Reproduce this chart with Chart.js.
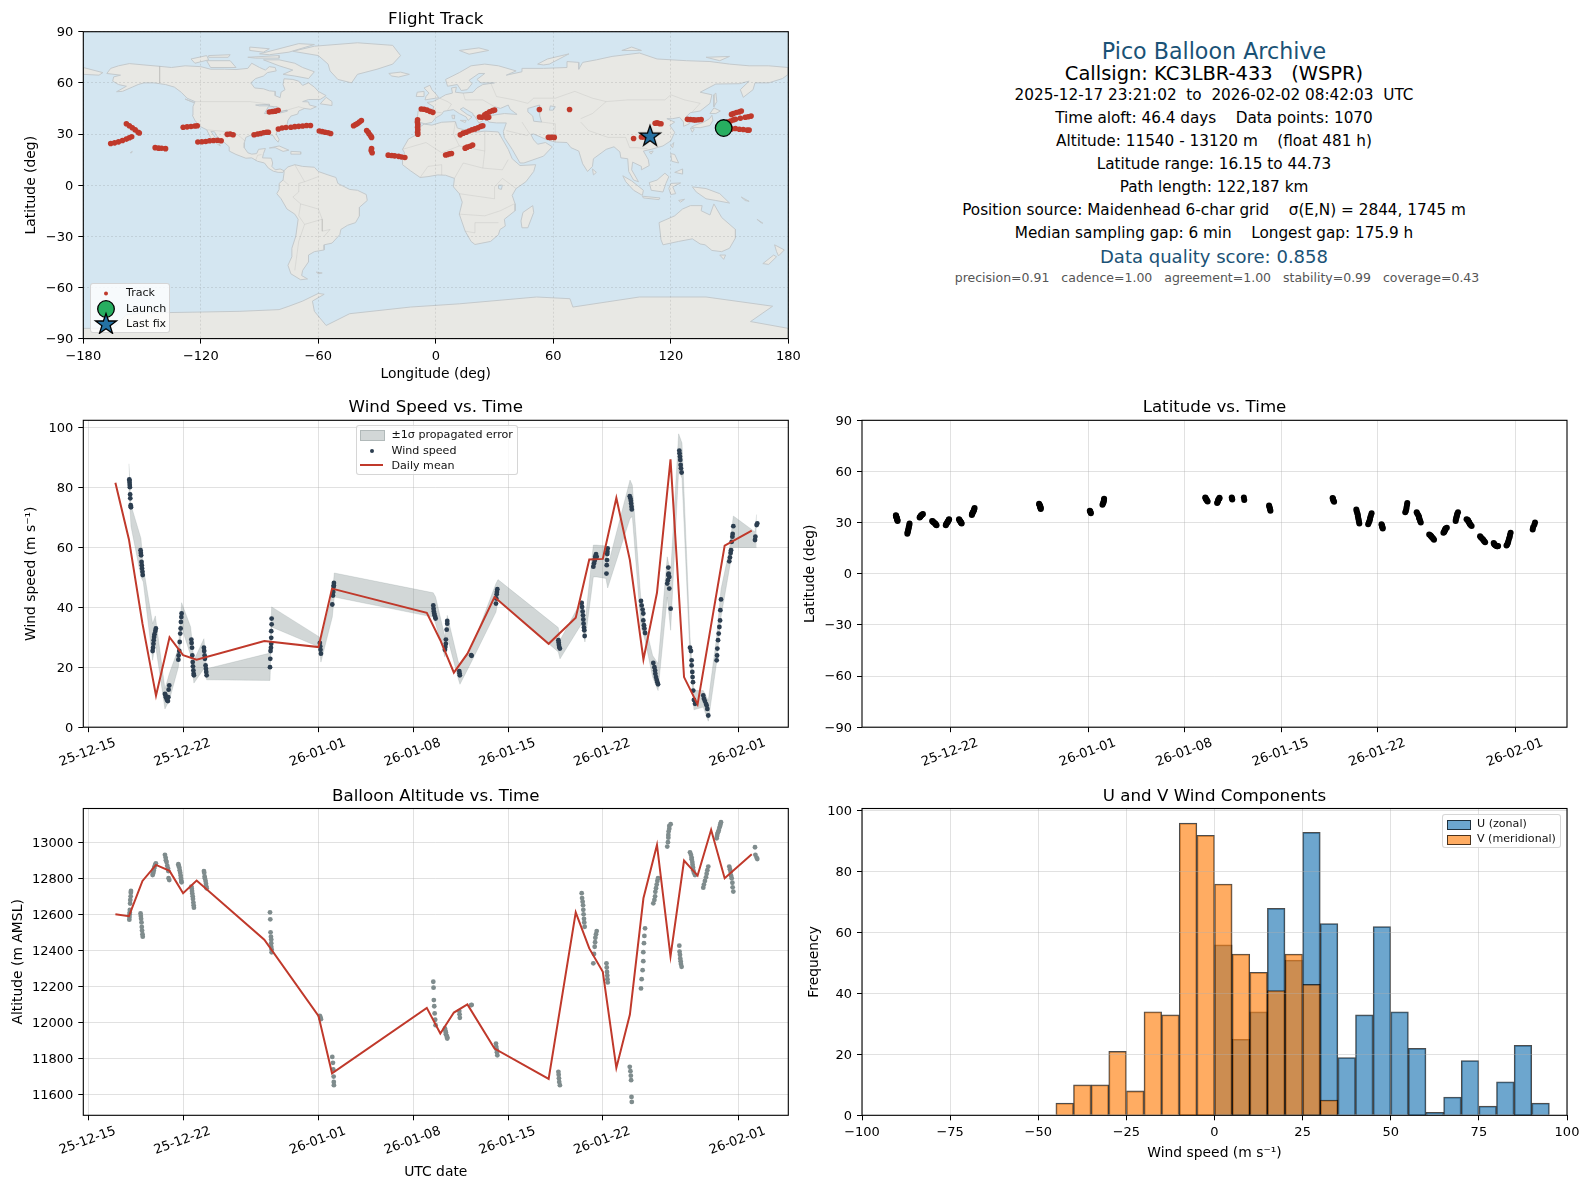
<!DOCTYPE html>
<html>
<head>
<meta charset="utf-8">
<title>Pico Balloon Archive</title>
<script src="https://cdn.jsdelivr.net/npm/chart.js@4"></script>
<style>
    html, body { margin: 0; padding: 0; background: #fff; }
    body { position: relative; width: 1589px; height: 1189px; overflow: hidden; font-family: "DejaVu Sans", sans-serif; color: #000; }
    canvas { position: absolute; }
    .line { position: absolute; left: 814px; width: 800px; text-align: center; white-space: pre; font-size: 15.28px; line-height: 18px; }
    .legend { position: absolute; background: rgba(255,255,255,0.8); border: 1px solid rgba(204,204,204,0.8); border-radius: 3px; box-sizing: border-box; }
    .legend span { position: absolute; font-size: 11.1px; line-height: 12px; white-space: pre; color: #111; }
    .legend i, .legend svg { position: absolute; display: block; }
</style>
</head>
<body>
<canvas id="mapChart" style="left:0;top:0"></canvas>
<canvas id="windChart" style="left:0;top:385px"></canvas>
<canvas id="latChart" style="left:800px;top:385px"></canvas>
<canvas id="altChart" style="left:0;top:775px"></canvas>
<canvas id="histChart" style="left:800px;top:775px"></canvas>

<div class="line" style="top:39px;font-size:22.2px;line-height:24px;color:#1a5276">Pico Balloon Archive</div>
<div class="line" style="top:63px;font-size:19.44px;line-height:22px">Callsign: KC3LBR-433   (WSPR)</div>
<div class="line" style="top:85.7px">2025-12-17 23:21:02  to  2026-02-02 08:42:03  UTC</div>
<div class="line" style="top:108.7px">Time aloft: 46.4 days    Data points: 1070</div>
<div class="line" style="top:131.7px">Altitude: 11540 - 13120 m    (float 481 h)</div>
<div class="line" style="top:154.7px">Latitude range: 16.15 to 44.73</div>
<div class="line" style="top:177.7px">Path length: 122,187 km</div>
<div class="line" style="top:201px">Position source: Maidenhead 6-char grid    σ(E,N) = 2844, 1745 m</div>
<div class="line" style="top:223.7px">Median sampling gap: 6 min    Longest gap: 175.9 h</div>
<div class="line" style="top:246px;font-size:18.05px;line-height:22px;color:#1a5276">Data quality score: 0.858</div>
<div class="line" style="top:270px;left:817px;font-size:12.5px;line-height:16px;color:#555">precision=0.91   cadence=1.00   agreement=1.00   stability=0.99   coverage=0.43</div>

<div class="legend" style="left:90px;top:283px;width:80px;height:50px">
    <svg style="left:0;top:0" width="80" height="50" viewBox="0 0 80 50">
        <circle cx="15" cy="9.5" r="2" fill="#c0392b"/>
        <circle cx="15" cy="25" r="8.3" fill="#27ae60" stroke="#000" stroke-width="1.3"/>
        <polygon points="15,29.5 17.6,37 25.5,37 19.1,41.8 21.5,49.3 15,44.8 8.5,49.3 10.9,41.8 4.5,37 12.4,37" fill="#2471a3" stroke="#000" stroke-width="1.3"/>
    </svg>
    <span style="left:35px;top:3px">Track</span>
    <span style="left:35px;top:19px">Launch</span>
    <span style="left:35px;top:34px">Last fix</span>
</div>

<div class="legend" style="left:355.5px;top:424.5px;width:162.5px;height:50.5px">
    <i style="left:3px;top:4.5px;width:23px;height:9px;background:rgba(127,140,141,0.35);border:0.5px solid rgba(127,140,141,0.4)"></i>
    <i style="left:13.5px;top:23.5px;width:4px;height:4px;border-radius:2px;background:#2c3e50"></i>
    <i style="left:3px;top:38.5px;width:23px;height:2px;background:#c0392b"></i>
    <span style="left:35px;top:3px">±1σ propagated error</span>
    <span style="left:35px;top:19px">Wind speed</span>
    <span style="left:35px;top:34px">Daily mean</span>
</div>

<div class="legend" style="left:1442px;top:814px;width:119px;height:34px">
    <i style="left:4px;top:5px;width:22px;height:8px;background:rgba(31,119,180,0.65);border:1px solid rgba(0,0,0,0.7)"></i>
    <i style="left:4px;top:20px;width:22px;height:8px;background:rgba(255,127,14,0.65);border:1px solid rgba(0,0,0,0.7)"></i>
    <span style="left:34px;top:3px">U (zonal)</span>
    <span style="left:34px;top:18px">V (meridional)</span>
</div>

<script>
// --- tick values ---
const mapLonTicks = [-180, -120, -60, 0, 60, 120, 180];
const mapLatTicks = [-90, -60, -30, 0, 30, 60, 90];
const dateTickDays = [0, 7, 17, 24, 31, 38, 48];           // days after 2025-12-15
const dateTickLabels = ["25-12-15", "25-12-22", "26-01-01", "26-01-08", "26-01-15", "26-01-22", "26-02-01"];
const latDateTickDays = [7, 17, 24, 31, 38, 48];
const windTicks = [0, 20, 40, 60, 80, 100];
const altTicks = [11600, 11800, 12000, 12200, 12400, 12600, 12800, 13000];
const histXTicks = [-100, -75, -50, -25, 0, 25, 50, 75, 100];
const histYTicks = [0, 20, 40, 60, 80, 100];

// --- samples, one row per pass, same order in all four arrays ---
const sampleDays = [
    3.03,3.04,3.05,3.06,3.07,3.09,3.10,3.13,3.14,3.15,
    3.86,3.88,3.90,3.93,3.95,3.97,4.00,4.02,
    4.75,4.78,4.81,4.83,4.86,4.89,4.95,4.99,
    5.66,5.71,5.73,5.78,5.83,5.88,5.91,5.93,5.98,
    6.65,6.67,6.72,6.75,6.79,6.82,6.84,6.87,6.89,
    7.61,7.63,7.66,7.68,7.71,7.73,7.76,7.78,7.80,
    8.54,8.56,8.59,8.61,8.66,8.69,8.71,8.74,
    13.42,13.44,13.46,13.49,13.51,13.51,13.51,13.54,13.54,
    17.10,17.13,17.15,17.18,
    18.02,18.07,18.09,18.12,18.13,18.14,
    25.48,25.50,25.52,25.55,25.58,25.62,25.65,
    26.34,26.37,26.41,26.41,26.47,26.51,26.51,
    27.40,27.42,27.44,
    28.28,28.31,
    30.11,30.13,30.16,30.18,30.21,
    34.72,34.74,34.76,34.78,34.83,
    36.44,36.47,36.51,36.54,36.56,36.58,36.61,36.63,36.66,
    37.30,37.35,37.40,37.43,37.45,37.50,37.55,
    38.27,38.29,38.31,38.33,38.34,38.36,
    39.99,40.04,40.07,40.09,40.12,40.14,
    40.82,40.87,40.94,40.99,40.99,41.04,41.07,41.12,
    41.73,41.81,41.86,41.88,41.93,41.98,42.03,42.08,
    42.76,42.81,42.84,42.84,42.86,42.91,42.91,43.01,
    43.65,43.67,43.70,43.72,43.75,43.77,43.82,
    44.44,44.51,44.56,44.56,44.61,44.63,44.66,44.68,44.73,44.81,
    45.42,45.47,45.54,45.62,45.67,45.72,45.79,
    46.41,46.44,46.46,46.51,46.56,46.61,46.66,46.68,46.73,
    47.34,47.39,47.44,47.47,47.52,47.57,47.59,47.64,
    49.24,49.27,49.36,49.41
];
const windSpeed = [
    82.6,82.2,81.5,80.7,80.0,77.6,76.3,74.0,73.5,73.3,
    59.0,58.1,57.3,55.1,54.0,52.9,51.8,50.7,
    25.4,26.5,27.8,29.0,30.1,31.0,32.1,32.9,
    11.1,10.6,10.0,9.5,8.9,8.7,10.0,12.5,13.9,
    22.5,23.9,25.4,28.4,31.2,32.9,35.1,36.7,37.9,
    29.2,28.1,26.5,23.9,21.7,20.3,18.9,17.8,17.3,
    26.5,25.4,23.9,22.8,20.6,19.5,18.4,17.3,
    20.0,22.8,25.4,26.5,27.8,29.8,32.0,34.3,36.2,
    28.1,26.9,25.8,24.5,
    40.9,43.9,45.1,46.8,47.3,48.1,
    40.6,39.5,38.6,37.9,37.3,36.7,36.2,
    25.8,26.7,27.8,29.2,32.5,34.5,35.4,
    18.7,18.0,17.3,
    24.0,23.8,
    41.2,42.9,44.3,45.1,46.0,
    29.0,28.2,27.4,26.7,26.2,
    41.4,40.1,38.6,37.3,35.9,34.5,33.2,32.3,30.4,
    53.5,54.6,55.5,56.2,57.0,57.7,56.8,
    51.2,54.0,55.7,57.7,58.5,59.6,
    77.0,76.3,75.5,74.6,73.5,72.6,
    42.1,40.6,39.2,37.9,35.6,34.0,32.9,31.4,
    21.4,20.0,18.9,17.8,16.7,15.8,15.0,14.3,
    47.9,49.0,50.7,53.2,51.2,50.1,46.2,39.5,
    92.2,91.3,90.2,89.1,87.4,86.3,84.9,
    26.5,25.4,22.3,20.6,18.4,16.7,15.0,12.2,9.1,7.8,
    10.6,9.5,8.7,7.8,7.2,6.1,3.9,
    22.3,23.9,26.2,29.0,31.2,33.4,35.6,39.0,42.6,
    55.3,56.6,58.1,59.0,61.8,63.5,64.4,67.0,
    62.4,63.5,67.4,67.9
];
const altitude = [
    12570,12585,12600,12610,12624,12660,12680,12700,12720,12730,
    12605,12590,12575,12555,12530,12510,12490,12476,
    12818,12825,12835,12845,12855,12865,12875,12883,
    12930,12915,12900,12890,12870,12855,12840,12800,12790,
    12878,12870,12860,12845,12830,12815,12800,12785,12778,
    12754,12745,12730,12715,12700,12685,12665,12650,12637,
    12840,12830,12810,12800,12785,12770,12755,12744,
    12611,12572,12500,12476,12460,12440,12420,12405,12389,
    12037,12030,12024,12018,
    11809,11776,11740,11700,11670,11652,
    12226,12193,12124,12090,12050,12015,11985,
    11967,11955,11945,11935,11925,11918,11911,
    12063,12045,12026,
    12096,12098,
    11883,11865,11850,11835,11818,
    11726,11710,11690,11670,11652,
    12717,12690,12670,12650,12625,12600,12575,12555,12531,
    12328,12380,12420,12445,12470,12490,12507,
    12328,12305,12280,12260,12240,12222,
    11754,11730,11705,11680,11587,11559,
    12189,12240,12290,12340,12390,12440,12480,12522,
    12661,12680,12700,12725,12745,12765,12785,12800,
    12976,13000,13025,13040,13060,13075,13090,13100,
    12426,12393,12375,12355,12340,12325,12309,
    12944,12930,12915,12905,12890,12875,12860,12845,12830,12818,
    12748,12765,12785,12805,12825,12845,12865,
    13022,13035,13045,13055,13065,13080,13090,13100,13111,
    12865,12850,12835,12815,12800,12775,12750,12726,
    12972,12930,12915,12907
];
const latitude = [
    34.3,34.0,33.7,33.4,33.1,32.7,32.3,31.8,31.4,31.0,
    23.5,24.3,25.0,25.8,26.7,27.5,28.5,29.5,
    33.0,33.3,33.6,33.9,34.2,34.5,34.8,35.0,
    31.0,30.8,30.4,30.1,29.8,29.5,29.2,28.8,28.5,
    28.5,29.0,29.5,30.0,30.4,30.8,31.2,31.6,32.0,
    32.0,31.6,31.3,31.0,30.7,30.4,30.1,29.8,29.5,
    34.5,35.0,35.5,36.0,36.6,37.2,37.9,38.5,
    41.0,40.6,40.2,39.9,39.5,39.2,38.8,38.4,38.0,
    37.0,36.6,36.0,35.5,
    40.5,41.3,42.0,42.8,43.4,44.0,
    44.7,44.4,44.0,43.6,43.2,42.8,42.4,
    41.5,42.0,42.6,43.2,43.8,44.2,44.6,
    44.7,44.2,43.6,
    44.7,43.2,
    40.0,39.3,38.5,37.8,37.0,
    44.5,44.2,43.5,42.8,42.2,
    37.7,36.7,35.7,34.7,33.7,32.7,31.7,30.6,29.5,
    29.0,30.0,31.0,32.0,33.0,34.2,35.5,
    29.0,28.5,28.0,27.5,27.0,26.5,
    36.0,37.0,38.0,39.2,40.4,41.5,
    36.0,35.2,34.3,33.5,32.7,31.9,31.0,30.0,
    23.0,22.6,22.2,21.8,21.4,21.0,20.5,20.0,
    24.0,24.4,24.8,25.2,25.6,26.0,26.5,27.0,
    31.0,32.0,32.8,33.6,34.4,35.2,36.0,
    32.0,31.6,31.2,30.8,30.4,30.0,29.6,29.2,28.6,28.0,
    22.0,21.4,20.8,20.2,19.6,19.0,18.5,
    18.0,17.6,17.2,16.8,16.5,16.3,16.2,16.15,16.3,
    16.5,17.2,18.1,19.0,20.5,21.5,22.8,24.0,
    26.0,27.3,28.8,30.0
];

// --- daily means ---
const windMeanDays = [2,3,4,5,6,7,8,13,17,18,25,26,27,28,30,34,36,37,38,39,40,41,42,43,44,45,47,49];
const windMean = [81.5,62.6,34.5,10.5,30,24,22.5,28.7,26.7,46.2,38.1,29,18.2,24.5,43.4,27.8,36.5,55.9,56.1,76.4,55.7,22.6,44.8,89.3,16.7,7.6,60.5,65.5];
const altMeanDays = [2,3,4,5,6,7,8,13,17,18,25,26,27,28,30,34,36,37,38,39,40,41,42,43,44,45,46,47,49];
const altMean = [12600,12590,12785,12874,12841,12717,12787,12459,12037,11718,12081,11939,12055,12100,11855,11687,12611,12411,12281,11748,12044,12689,12985,12367,12898,12815,13069,12800,12933];

// --- propagated error band ---
const bandDays = [3.00,3.15,3.89,4.06,4.75,4.95,5.66,5.98,6.65,6.89,7.56,7.80,8.54,8.74,13.42,13.54,17.06,17.18,18.02,18.17,25.48,25.65,26.34,26.51,27.33,27.45,28.29,30.11,30.26,34.71,34.84,36.44,36.68,37.30,37.55,38.23,38.36,40.01,40.18,40.82,41.12,41.68,42.08,42.76,43.01,43.60,43.85,44.44,44.73,45.42,45.79,46.41,46.73,47.34,47.64,49.24,49.36];
const bandUpper = [87.8,74.1,62.9,53.5,34.5,37.1,12.8,17.8,26.2,41.5,33.4,22.3,29.5,19.5,24.7,40.1,30.1,29,44.5,51.4,44.8,43.4,30.1,37.3,21.7,21.2,26.2,47.9,49.2,33.2,29,42.3,34.5,60.7,60.7,60.4,53.5,82.4,80.7,42.3,34.5,23.9,21.2,56.8,51.2,97.8,94.7,30.1,12.2,12.2,8.9,30.1,46,59,70.4,65.1,70.9];
const bandLower = [79.1,67,50.1,48.4,22.3,27.8,6.1,8.9,20,33.4,23.9,14.7,19.5,15.8,15.6,33.4,26.7,21.7,36.7,43.4,36.7,34.5,23.4,30.1,16.1,14.3,21.7,38.4,42.3,25.1,22.8,34.5,28.4,50.1,50.1,49.6,46.4,69.6,70.2,33.4,29,16.7,12.2,43.4,32.3,85.7,83,23.4,5.8,6.7,2,21.7,36.7,52.6,59.9,59.9,59.9];

// --- histogram, bins of 5 m/s ---
const binCentersU = [2.5,7.5,12.5,17.5,22.5,27.5,32.5,37.5,42.5,47.5,52.5,57.5,62.5,67.5,72.5,77.5,82.5,87.5,92.5];
const countsU = [56,25,34,68,51,93,63,19,33,62,34,22,1,6,18,3,11,23,4];
const binCentersV = [-42.5,-37.5,-32.5,-27.5,-22.5,-17.5,-12.5,-7.5,-2.5,2.5,7.5,12.5,17.5,22.5,27.5,32.5];
const countsV = [4,10,10,21,8,34,33,96,92,76,53,47,41,53,43,5];

// --- flight track ---
const trackLon = [
    151,153,155,157,159,160, 149,150.5,152,153,155.5,158,159.5,161, 151,152,153.5,155,156,
    128.5,130,131.5,132.5,134,135.5, 112,113,114,115, 101,105,106, 57.5,58.5,59.5,60.5, 52.9,68.3,
    22.3,23.5,25,26,27, 25,26,27.5,29,30, 12.5,14,15.5,17,18.5,20,21.5,23,24, 15,16,17.5,18.8, 5,6,7,8,
    -7.4,-6,-4.5,-3,-1.5, -9.3,-9.4,-9.2,-9.3,-9.2,-9.3,-9.2, -24.3,-22.5,-21,-19,-17.5,-15.8, -32.8,-33,-32.5,
    -35.3,-34.5,-34,-33.2,-32.8, -42,-41,-40,-39,-38, -59.5,-58,-56.5,-55,-53.7,
    -80.4,-78.5,-76.5,-74,-72,-70,-68,-66,-64, -85,-83.5,-82,-80.5, -92.8,-91,-89.5,-88,-86.5,-85.5, -106.5,-105,-103.5,
    -121.5,-119.5,-117.5,-115.5,-113.5,-111.5,-109.6, -129,-127,-125,-123,-121.8, -143.3,-141.5,-140,-138,
    -158,-156.5,-155,-153.5,-152,-151.4, -166,-164,-162,-160,-158,-156.5,-155.3
];
const trackLat = [
    33,33.2,32.8,32.6,32.3,32.3, 37,37.6,38.3,38.6,39.2,39.8,40.1,40.5, 41.5,42,42.6,43,43.5,
    38.6,38.5,38.4,38.2,38.4,38.5, 36.3,36.6,36.1,36, 27.4,28.2,28.3, 28.1,28,28.1,28, 44.4,44.4,
    40,39.8,40.1,39.6,39.8, 41.2,42,43,43.7,44, 29.5,30.5,31,31.8,32.5,33,33.7,34.5,34.8, 21.7,22.3,22.8,23.5, 17.7,18,18.4,18.6,
    44.7,44.5,44,43.3,42.7, 38.4,37,35.5,34,32.5,31,29.9, 17.6,17.4,17.2,16.9,16.5,16.2, 21.5,20.3,19,
    32,31,30,28.9,28, 34.8,35.5,36.2,37,37.9, 31.8,31.4,31,30.7,30.3,
    32.9,33.5,33.8,34,34.3,34.5,34.7,35,35, 42.9,43.2,43.4,43.9, 29.6,30,30.3,30.7,31,31, 29.8,30,29.6,
    25.3,25.5,25.6,26,26.2,26.3,26, 34,34.2,34.4,34.7,34.8, 22,21.7,21.6,21.4,
    36,34.8,33.7,32.4,31,30.6, 24.4,24.8,25.4,26.2,27,27.8,28.4
];
const launchLon = [147], launchLat = [33.5];
const lastFixLon = [109.4], lastFixLat = [28.9];

// --- base map, lon/lat outlines ---
const oceanOutline = [[-180,-90],[180,-90],[180,90],[-180,90]];
const northAmerica = [[-168,65.5],[-166,68.5],[-162,70],[-156.5,71.3],[-148,70.4],[-141,69.7],[-135,69],[-128,70],[-120,69.5],[-115,68],[-108,68],[-102,67.8],[-96,68.5],[-94,71.5],[-90,69],[-87,67.5],[-85,69.5],[-82,69],[-81.5,67],[-86,66],[-88,64],[-92,62.5],[-94.5,60],[-92.5,57],[-88,56.5],[-85,55.3],[-82,55],[-82,52.5],[-79.5,51.3],[-79,54.5],[-77,56],[-78,59],[-77.5,62.4],[-73,62],[-70,61],[-68,58.5],[-65,60],[-62,57.5],[-60,55],[-56,52.5],[-59,50.3],[-65,50.2],[-68,49],[-65,48.8],[-64.5,47],[-61,46],[-64,44.5],[-67,45],[-70,43.5],[-70.5,41.7],[-74,40.5],[-75.5,38],[-76,35],[-78,34],[-81,32],[-81.5,30],[-80,26.8],[-80.5,25.2],[-82,27],[-83,29],[-85,29.7],[-89,30.2],[-90,29],[-94,29.6],[-97,28],[-97.7,25],[-97.8,22],[-96,19],[-94,18.2],[-91.5,18.5],[-90.5,21],[-87,21.5],[-88,18.5],[-88.5,16],[-84,15.8],[-83.3,13],[-83.7,11],[-82,9],[-79.5,9.5],[-77.5,8.5],[-78,7.5],[-80.5,7.5],[-83,8.2],[-85.5,10],[-87.5,13],[-91,14],[-94,16],[-97,15.8],[-102,18],[-105.5,20],[-105.5,22.5],[-109,26],[-112,29],[-113,31.3],[-114.8,31.5],[-112,27],[-110,23],[-112,24.5],[-115,28],[-117,32.5],[-120.5,34.5],[-123,38],[-124.3,41],[-124,46],[-123,49],[-127,51],[-130,54.5],[-133.5,57.5],[-138,59],[-144,60],[-149,60],[-152,59],[-155,57.5],[-160,55],[-163,54.8],[-158,58],[-162,59],[-165,61],[-164.5,63.5],[-161,64.5]];
const southAmerica = [[-77.5,8.5],[-75.5,10.7],[-72,12],[-68,11],[-62,10.5],[-60,8],[-55,6],[-51,4.5],[-50,1],[-44,-2.5],[-40,-3],[-35.5,-5.5],[-35,-9],[-39,-13],[-39,-18],[-41,-22],[-45,-23.5],[-48.5,-26],[-49,-29],[-53,-34],[-57,-35],[-57,-38],[-62,-39],[-65,-41],[-65,-45],[-68,-50],[-68.5,-53],[-65.5,-55],[-69,-55.5],[-74,-52],[-75.5,-47],[-73.5,-42],[-73.5,-37],[-71.5,-30],[-70.3,-20],[-72,-17],[-76,-14],[-79,-8],[-81.2,-5],[-80,-2.5],[-80,1],[-78,3],[-77.5,7]];
const africa = [[-6,35.8],[-2,35.2],[3,36.9],[10,37.3],[11,33.5],[15,32.3],[20,32.5],[20,31],[25,31.7],[32,31.2],[32.5,30],[34,27],[37,21],[39,15.5],[43,11.5],[51,12],[50,8],[46,2],[41,-2],[39,-6],[40.5,-11],[40.5,-15],[35,-20],[35.5,-24],[32.8,-26],[32,-29],[28,-33],[20,-34.8],[18,-33],[15,-27],[12,-17],[13.5,-10],[12,-5],[9,-1],[9.5,4],[5,5.8],[1,6],[-4,5],[-8,4.5],[-13,8.5],[-17,12],[-17,15],[-16,19],[-17,21],[-14,27],[-10,29.5],[-9.5,33]];
const eurasia = [[-9,37],[-9.5,39],[-9,43.5],[-2,43.5],[-1,46],[-4.5,48.5],[-1.5,49],[2,51],[5,53],[8.5,54],[8,57],[10.5,57.5],[10,54.5],[14,54],[19,54.5],[21,57],[24,59],[30,60],[23,60],[21,62],[25,65.5],[22,65.5],[17,61.5],[18.5,59.5],[16,56],[13,55.5],[11,59],[6,58],[5,62],[12,66],[18,70],[25,71],[32,70],[41,67],[36,64.5],[44,66.5],[44,68.5],[55,68.5],[67,69],[67,72.5],[73,72],[73,68],[75,72],[82,73.5],[90,75.5],[104,77.5],[113,74],[128,73],[140,72.5],[150,71],[160,70],[170,70],[180,69],[180,65],[177,62.5],[170,60],[163,60],[162,56],[157,51.5],[155.5,56],[160,61],[155,59.5],[143,59.3],[135,54.5],[141,53],[140,48],[135,43.5],[130,42.5],[127.5,39.8],[129.5,36],[126.5,34.5],[126.5,37],[124.5,39.8],[121,39],[118,39],[122,37],[119.5,35],[122,31],[120,26],[116,23],[110,21],[106,20],[108.5,15],[109,11.5],[105,9],[105,11],[100.5,13.5],[100,9],[103.5,2],[101,3],[98.5,8],[98,15.5],[94.5,16],[94,19.5],[91,22.5],[87,21],[80.5,15.5],[80,11],[77.5,8],[75,12.5],[73,20],[69,22],[67,25],[61,25.3],[57,26.5],[50,30],[48.5,29.8],[50,26.5],[52,24],[56,25],[59.5,22.5],[55,17],[45,13],[43,13],[39,21],[35,28],[34.5,31.5],[36,36.5],[31,36.5],[27,37],[26,39.5],[29,41],[35,42],[41.5,41.5],[38,44.5],[37,47],[33,45],[30,46],[28,42],[26,40.8],[23,40.3],[24,37.8],[22,36.5],[19.5,41],[19,42],[14,45.5],[12.5,44.5],[16,41.5],[18.5,40],[16.5,38],[15.5,40],[12,42],[9,44.3],[4,43.3],[3,41.5],[0,39.5],[-2,36.8],[-5.5,36]];
const australia = [[114,-22],[122,-18],[126,-14],[130,-12],[136,-12],[135.5,-15],[140,-17.5],[142,-11],[146,-19],[153,-26],[153,-31],[150,-37],[146,-39],[141,-38.3],[137.5,-35],[135,-34.5],[131,-31.5],[124,-33],[116,-35],[115,-32]];
const antarctica = [[-180,-90],[180,-90],[180,-84],[160.7,-80],[172,-71],[138,-65.6],[104,-65.6],[70,-71.5],[68.5,-66.6],[51.5,-65.6],[12,-69.6],[-13,-71.5],[-44,-75.4],[-56,-82.3],[-62,-74],[-63,-68],[-57,-64],[-60,-63.5],[-68,-68],[-75,-71],[-80,-73],[-100,-74],[-119,-74.4],[-150,-75],[-158,-76],[-165,-84],[-180,-84]];
const islands = [
    [[-180,69],[-170,66],[-172,64.5],[-180,65]],
    [[-80,73.5],[-72,71.5],[-68,69],[-62,66.5],[-65,62.5],[-72,64],[-78,65],[-73,67.5],[-80,70],[-88,73.5]],
    [[-117,73],[-105,73],[-102,69],[-115,69]],
    [[-125,74],[-117,76],[-116,73.5],[-123,71.5]],
    [[-90,77],[-70,83],[-62,82.5],[-75,78],[-85,76.5]],
    [[-96,75],[-80,76],[-80,74.5],[-92,74.5]],
    [[-116,76],[-105,76.5],[-106,75],[-116,75]],
    [[-95,81],[-85,80],[-88,78],[-95,79]],
    [[-73,78.5],[-62,81.5],[-40,83.5],[-22,82],[-18,76],[-22,71],[-30,68],[-40,65],[-43,60],[-50,62],[-54,67],[-55,71],[-60,76]],
    [[-59,47.7],[-53,46.7],[-53,49],[-56,51.5]],
    [[-128,50.5],[-123.5,48.5],[-125,49]],
    [[-85,21.8],[-80,23],[-75,20.5],[-78,19.8],[-82,22]],
    [[-74,19.8],[-69,19.5],[-69,18.2],[-74,18.2]],
    [[-156,19],[-155,19.8],[-155.3,19]],
    [[-61,-51],[-58,-51.5],[-60,-52]],
    [[49.5,-12],[50,-16],[47,-25],[44,-25],[43.5,-21],[44.5,-16]],
    [[-5.5,50],[1.5,51.3],[0,53.5],[-2,56],[-3,58.6],[-6,57],[-3.5,54],[-5,52]],
    [[-10,52],[-6,52],[-6,55],[-9.5,54.5]],
    [[-24,65.5],[-18,66.3],[-13.5,65],[-19,63.4],[-22.5,64]],
    [[12.5,38],[15.5,38],[15,36.7]],
    [[8.2,41],[9.7,41],[9.5,39],[8.5,39]],
    [[130.5,34],[135,33.7],[140,35],[141.5,38],[141,41],[139.8,39],[136.5,36.8],[132,35]],
    [[140,42],[142,45.3],[145.3,43.5],[143,42]],
    [[130,33.5],[132,33],[131,31]],
    [[142,46],[143.5,49],[143,54],[142,53]],
    [[120,23],[121.5,25],[121,22]],
    [[109,19.5],[111,20],[110,18.2]],
    [[80,9.5],[82,7.5],[80.5,6]],
    [[120,18.5],[122,18],[124,13],[120.5,14]],
    [[122,7.5],[126,9.5],[126,6.5]],
    [[109,1.5],[113,3],[117,7],[119,5],[117.5,1],[116,-4],[110,-3]],
    [[95.5,5.5],[100,2.5],[106,-3],[105.5,-6],[101,-3],[97,2]],
    [[105.5,-6.5],[114.5,-7.5],[114,-8.5],[106,-7.5]],
    [[120,1],[125,1.3],[121,-1],[122.5,-5],[120,-5.5],[119,-2]],
    [[124,-9],[127,-8.3],[125,-10]],
    [[131,-1],[138,-2],[145,-5],[150,-10.5],[143,-9],[138,-8],[133,-4]],
    [[156,-7],[160,-9.5],[158,-9]],
    [[164,-20],[167,-22.3],[166,-22]],
    [[145,-41],[148,-41],[147,-43.5]],
    [[173,-35],[178,-38],[175,-41.5],[174,-39]],
    [[172.5,-41],[174,-42],[170,-46.5],[167,-46]],
    [[52,71],[57,74],[68,77],[58,71],[55,70.5]],
    [[12,79],[22,80.5],[27,79],[17,76.8]],
    [[95,79],[105,79],[100,81]],
    [[138,75],[150,75.5],[145,73]]
];
const lakes = [
    [[47,45],[53,47],[53,41],[54,37],[50,37.5],[49.5,40.5],[47,43]],
    [[58.5,46.5],[61,46],[60,44],[58,44]],
    [[-92,47],[-85,47.5],[-85,46.5],[-90,46.5]],
    [[-87.5,42],[-85.5,46],[-81,46],[-82,43],[-86,42]],
    [[-83,42],[-76,44],[-76,43.3],[-79,42.5]],
    [[32,0],[34,0],[33.5,-2.5],[32,-2]]
];
const borderLines = [
    [[-141,69.7],[-141,60]], [[-123,49],[-95,49],[-88,48],[-83,46],[-82,43],[-76,44],[-70,46],[-67,45]],
    [[-117,32.5],[-108,31.5],[-106,31.7],[-101,29.5],[-97.5,26]], [[-92,14.5],[-91,17.5],[-89,18]],
    [[-70,-18],[-69,-11],[-73,-7],[-70,-4],[-70,1],[-67,2],[-60,5]], [[-70,-18],[-67,-23],[-70,-33],[-72,-50]],
    [[-58,-20],[-58,-27],[-54,-26],[-57,-30]], [[-67,-23],[-58,-20],[-60,-14],[-69,-11]], [[-75,0],[-78,3]], [[-72,12],[-67,2]],
    [[28,60],[31,52],[40,50],[47,48],[50,51],[61,51],[71,55],[80,51],[87,49],[98,50],[107,50],[117,50],[120,53],[127,50],[135,48],[131,43]],
    [[74,39],[80,42],[87,49]], [[74,37],[78,32],[88,28],[97,28],[99,22],[102,22],[108,21.5]], [[61,25],[61,36],[54,37]], [[44,37],[48,30]], [[36,32],[47,29]],
    [[2,51],[6,49],[8,47.5],[6,44]], [[-2,43],[3,42.5]], [[14,54],[15,50],[24,50],[30,46]], [[10,37],[9,30],[12,23],[25,20],[25,31.5]],
    [[-17,21],[-5,25],[3,19],[12,23]], [[25,20],[24,10],[34,9],[37,15]], [[12,-5],[30,-8],[30,-1],[34,4],[41,-2]], [[12,-17],[25,-18],[33,-15],[40,-11]],
    [[15,-27],[20,-28],[20,-22],[32,-22]], [[3,6],[3,12],[-4,11],[-8,4.5]], [[9.5,4],[14,13],[24,10]]
];

// --- helpers ---
Chart.defaults.font.family = '"DejaVu Sans", sans-serif';
Chart.defaults.color = '#000';
Chart.defaults.animation = false;

const toPoints = (xs, ys) => xs.map((x, i) => ({ x: x, y: ys[i] }));
const pairsToPoints = pairs => pairs.map(p => ({ x: p[0], y: p[1] }));
// several closed rings in one dataset, split by empty points
const ringsToPoints = rings => {
    const out = [];
    rings.forEach(r => { out.push(...pairsToPoints(r.concat([r[0]])), { x: null, y: null }); });
    return out;
};
const linesToPoints = lines => {
    const out = [];
    lines.forEach(l => { out.push(...pairsToPoints(l), { x: null, y: null }); });
    return out;
};
const minusLabel = v => String(v).replace('-', '\u2212');
const dateLabel = v => dateTickLabels[dateTickDays.indexOf(v)];

const frame = {
    id: 'frame',
    afterDraw(chart) {
        const a = chart.chartArea, ctx = chart.ctx;
        ctx.save();
        ctx.strokeStyle = '#000';
        ctx.lineWidth = 1.1;
        ctx.strokeRect(a.left, a.top, a.right - a.left, a.bottom - a.top);
        ctx.restore();
    }
};

function makeAxis(c) {
    const isY = c.width !== undefined;
    const axis = {
        type: 'linear', min: c.min, max: c.max, offset: false,
        afterBuildTicks: s => { s.ticks = c.ticks.map(v => ({ value: v })); },
        afterFit: s => {
            if (c.width !== undefined) s.width = c.width;
            if (c.height !== undefined) s.height = c.height;
            s.paddingLeft = s.paddingRight = s.paddingTop = s.paddingBottom = 0;
        },
        grid: { offset: false, color: c.gridColor || 'rgba(176,176,176,0.38)', lineWidth: 1, tickColor: '#000', tickLength: 5, tickWidth: 1, z: c.gridZ === undefined ? -1 : c.gridZ },
        border: { display: false, dash: c.dash || [] },
        ticks: {
            callback: c.label || minusLabel, autoSkip: false,
            padding: c.rotation ? 3 : 5,
            labelOffset: c.rotation ? 27 : (isY ? 1 : 0),
            minRotation: c.rotation || 0, maxRotation: c.rotation || 0,
            font: { size: 13 }, color: '#000'
        }
    };
    if (c.title) {
        axis.title = { display: true, text: c.title, font: { size: 13.89 }, color: '#000', padding: c.titlePadding };
    }
    return axis;
}

function makeTitle(text, centerY, areaTop) {
    const lineHeight = 20;
    return {
        display: true, fullSize: false, text: text, color: '#000', font: { size: 16.67, weight: 'normal', lineHeight: 1.2 },
        padding: { top: centerY - lineHeight / 2, bottom: areaTop - centerY - lineHeight / 2 }
    };
}

function makeChart(id, w, h, type, datasets, title, xAxis, yAxis, rightPad) {
    const canvas = document.getElementById(id);
    canvas.width = w;
    canvas.height = h;
    canvas.style.width = w + 'px';
    canvas.style.height = h + 'px';
    return new Chart(canvas, {
        type: type,
        data: { datasets: datasets },
        plugins: [frame],
        options: {
            responsive: false,
            events: [],
            layout: { padding: { left: 0, top: 0, bottom: 0, right: rightPad } },
            plugins: { legend: { display: false }, tooltip: { enabled: false }, title: title },
            scales: { x: xAxis, y: yAxis }
        }
    });
}

// filled star used for the last-fix marker
function starMarker() {
    const c = document.createElement('canvas');
    c.width = 26; c.height = 26;
    const g = c.getContext('2d');
    g.beginPath();
    for (let i = 0; i < 10; i++) {
        const r = i % 2 ? 4.3 : 10.9, a = -Math.PI / 2 + i * Math.PI / 5;
        g.lineTo(13 + r * Math.cos(a), 13.5 + r * Math.sin(a));
    }
    g.closePath();
    g.fillStyle = '#2471a3';
    g.fill();
    g.lineWidth = 1.3;
    g.strokeStyle = '#000';
    g.stroke();
    return c;
}

// --- 1. flight track map ---
const shape = (rings, color, edge, order) => ({
    data: ringsToPoints(rings), showLine: true, spanGaps: false, fill: 'shape', backgroundColor: color,
    borderColor: edge, borderWidth: 1, pointRadius: 0, order: order
});
const mapSets = [
    shape([oceanOutline], '#d4e6f1', '#d4e6f1', 100),
    shape([northAmerica, southAmerica, africa, eurasia, australia, antarctica], '#e8e8e4', '#c3c9cc', 50),
    shape(lakes, '#d4e6f1', '#c3c9cc', 45),
    shape(islands, '#e8e8e4', '#c3c9cc', 40),
    { data: linesToPoints(borderLines), showLine: true, spanGaps: false, borderColor: 'rgba(130,130,130,0.14)', borderWidth: 1, pointRadius: 0, order: 30 },
    { data: toPoints(trackLon, trackLat), pointRadius: 2.8, pointBorderWidth: 0, backgroundColor: '#c0392b', order: 3 },
    { data: toPoints(launchLon, launchLat), pointRadius: 8.3, pointBorderWidth: 1.3, backgroundColor: '#27ae60', borderColor: '#000', order: 2 },
    { data: toPoints(lastFixLon, lastFixLat), pointStyle: starMarker(), pointRadius: 10, order: 1 }
];

makeChart('mapChart', 800, 385, 'scatter', mapSets, makeTitle('Flight Track', 19.2, 31.7),
    makeAxis({ min: -180, max: 180, ticks: mapLonTicks, height: 46.4, title: 'Longitude (deg)', titlePadding: { top: 0, bottom: 2 }, gridZ: 1, dash: [2, 2], gridColor: 'rgba(110,110,110,0.18)' }),
    makeAxis({ min: -90, max: 90, ticks: mapLatTicks, width: 83.3, title: 'Latitude (deg)', titlePadding: { top: 22.6, bottom: 0 }, gridZ: 1, dash: [2, 2], gridColor: 'rgba(110,110,110,0.18)' }),
    11.7);

// --- 2. wind speed ---
makeChart('windChart', 800, 390, 'scatter', [
    { data: toPoints(bandDays, bandUpper), showLine: true, fill: '+1', backgroundColor: 'rgba(127,140,141,0.35)', borderColor: 'rgba(127,140,141,0.2)', borderWidth: 1, pointRadius: 0, order: 3 },
    { data: toPoints(bandDays, bandLower), showLine: true, borderColor: 'rgba(127,140,141,0.2)', borderWidth: 1, pointRadius: 0, order: 3 },
    { data: toPoints(sampleDays, windSpeed), pointRadius: 2.4, pointBorderWidth: 0, backgroundColor: '#2c3e50', order: 2 },
    { data: toPoints(windMeanDays, windMean), showLine: true, borderColor: '#c0392b', borderWidth: 2, pointRadius: 0, order: 1 }
], makeTitle('Wind Speed vs. Time', 22.4, 35.3),
    makeAxis({ min: -0.37, max: 51.7, ticks: dateTickDays, height: 47.8, rotation: 20, label: dateLabel }),
    makeAxis({ min: 0, max: 102.3, ticks: windTicks, width: 83.3, title: 'Wind speed (m s\u207B\u00B9)', titlePadding: { top: 22.6, bottom: 0 } }),
    11.7);

// --- 3. latitude ---
makeChart('latChart', 789, 390, 'scatter', [
    { data: toPoints(sampleDays, latitude), pointRadius: 3, pointBorderWidth: 0, backgroundColor: '#000' }
], makeTitle('Latitude vs. Time', 22.4, 35.3),
    makeAxis({ min: 0.57, max: 51.73, ticks: latDateTickDays, height: 47.8, rotation: 20, label: dateLabel }),
    makeAxis({ min: -90, max: 90, ticks: mapLatTicks, width: 62, title: 'Latitude (deg)', titlePadding: { top: 1.6, bottom: 0 } }),
    22);

// --- 4. altitude ---
makeChart('altChart', 800, 414, 'scatter', [
    { data: toPoints(sampleDays, altitude), pointRadius: 2.4, pointBorderWidth: 0, backgroundColor: '#7f8c8d', order: 2 },
    { data: toPoints(altMeanDays, altMean), showLine: true, borderColor: '#c0392b', borderWidth: 2, pointRadius: 0, order: 1 }
], makeTitle('Balloon Altitude vs. Time', 21.5, 33.5),
    makeAxis({ min: -0.37, max: 51.7, ticks: dateTickDays, height: 73.7, rotation: 20, label: dateLabel, title: 'UTC date', titlePadding: { top: 0, bottom: 8 } }),
    makeAxis({ min: 11485, max: 13187, ticks: altTicks, width: 83.3, title: 'Altitude (m AMSL)', titlePadding: { top: 9.6, bottom: 0 } }),
    11.7);

// --- 5. U and V histogram ---
makeChart('histChart', 789, 414, 'bar', [
    { data: toPoints(binCentersU, countsU), backgroundColor: 'rgba(31,119,180,0.65)', borderColor: 'rgba(0,0,0,0.7)', borderWidth: 1.1, barPercentage: 1, categoryPercentage: 1, grouped: false, order: 2 },
    { data: toPoints(binCentersV, countsV), backgroundColor: 'rgba(255,127,14,0.65)', borderColor: 'rgba(0,0,0,0.7)', borderWidth: 1.1, barPercentage: 1, categoryPercentage: 1, grouped: false, order: 1 }
], makeTitle('U and V Wind Components', 21.5, 33.5),
    makeAxis({ min: -100, max: 100, ticks: histXTicks, height: 73.7, gridZ: 1, title: 'Wind speed (m s\u207B\u00B9)', titlePadding: { top: 0, bottom: 27 } }),
    makeAxis({ min: 0, max: 100.8, ticks: histYTicks, width: 62, gridZ: 1, title: 'Frequency', titlePadding: { top: 5.6, bottom: 0 } }),
    22);
</script>
</body>
</html>
